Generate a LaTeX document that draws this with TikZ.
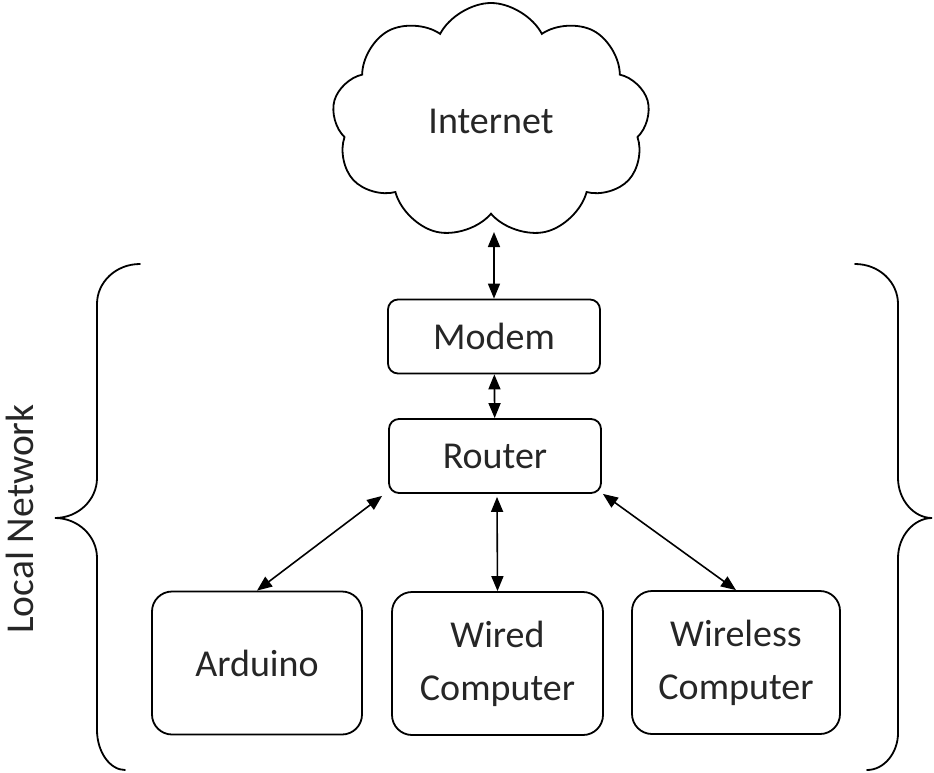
\documentclass[tikz,border=0pt]{standalone}
\usepackage{fontspec}
\setmainfont{Carlito}
\usetikzlibrary{shapes.symbols,arrows.meta,calc}
\definecolor{txt}{HTML}{262626}
\begin{document}
\begin{tikzpicture}[x=1pt,y=-1pt,
  line width=1.8pt,
  every node/.style={text=txt},
  box/.style={draw, rounded corners=10pt, minimum width=212pt, minimum height=74pt, inner sep=0pt, font=\fontsize{38}{46}\selectfont},
  dev/.style={draw, rounded corners=20pt, minimum width=210pt, minimum height=143pt, inner sep=0pt, align=center, font=\fontsize{38}{53}\selectfont},
  link/.style={{Triangle[length=15pt,width=12pt]}-{Triangle[length=15pt,width=12pt]}, line width=1.6pt},
  brace/.style={line width=1.8pt, line cap=round}]
\useasboundingbox (0,0) rectangle (934,773);

\node[cloud, draw, cloud puffs=9, cloud puff arc=125, aspect=1.4, minimum width=318pt, minimum height=236pt, inner sep=0pt, font=\fontsize{38}{46}\selectfont] (internet) at (491,121) {Internet};
\coordinate (cloudbottom) at (496,232);

\node[box] (modem) at (494,336.5) {Modem};
\node[box] (router) at (495,456) {Router};

\node[dev] (arduino) at (257,663) {Arduino};
\node[dev, minimum width=211pt] (wired) at (497.5,663.5) {Wired\\Computer};
\node[dev, minimum width=208pt] (wireless) at (736,662.5) {Wireless\\Computer};

\draw[link] (modem.north) -- (modem.north |- cloudbottom);
\draw[link] (modem) -- (router);
\draw[link] ($(router.south west)+(-6,2)$) -- (arduino.north);
\draw[link] ($(router.south)+(2,3)$) -- (wired.north);
\draw[link] ($(router.south east)+(1,0)$) -- (wireless.north);

\node[rotate=90, anchor=base, font=\fontsize{39.5}{46}\selectfont] (ln) at (33,519) {Local Network};

% left brace
\draw[brace] (140,264) .. controls (116,264) and (97,282) .. (97,304)
  -- (97,478) .. controls (97,500) and (78,518) .. (55,518)
  .. controls (78,518) and (97,536) .. (97,558)
  -- (97,730) .. controls (97,752) and (110,770) .. (125,770);
% right brace
\draw[brace] (855,264) .. controls (879,264) and (898,282) .. (898,304)
  -- (898,478) .. controls (898,500) and (914,518) .. (932,518)
  .. controls (914,518) and (898,536) .. (898,558)
  -- (898,733) .. controls (898,753) and (884,770) .. (867,770);
\end{tikzpicture}
\end{document}
